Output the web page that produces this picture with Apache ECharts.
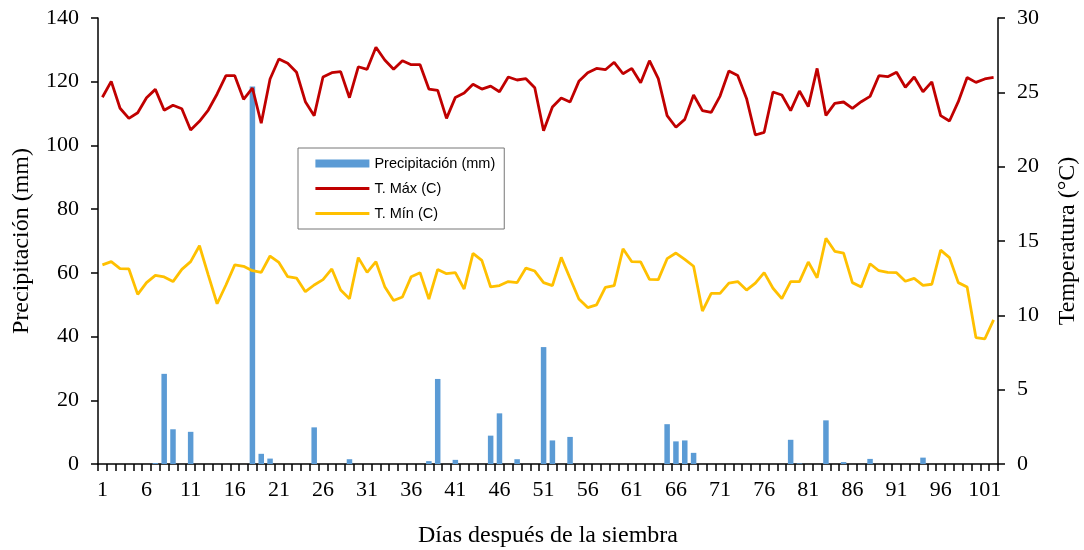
<!DOCTYPE html>
<html><head><meta charset="utf-8">
<script src="https://cdn.jsdelivr.net/npm/echarts@6/dist/echarts.min.js"></script>
<style>html,body{margin:0;padding:0;background:#fff}#c{width:1084px;height:550px}</style>
</head><body><div id="c"></div>
<script>
const days = Array.from({length:102},(_,i)=>String(i+1));
const precip = [
0,0,0,0,0,0,0.3,28.3,10.9,0,
10.1,0,0,0,0,0,0,118.5,3.2,1.7,
0,0,0,0,11.5,0,0,0,1.5,0,
0,0,0,0,0,0,0,0.9,26.7,0,
1.3,0,0,0,8.9,15.9,0,1.5,0,0,
36.7,7.4,0,8.5,0,0,0,0,0,0,
0,0,0,0,12.5,7.1,7.4,3.5,0,0,
0,0,0,0,0,0,0,0,7.6,0.2,
0,0,13.7,0,0.6,0,0,1.6,0,0,
0,0,0,2.0,0,0,0,0,0,0,
0,0];
const tMax = [
24.67,25.74,23.93,23.25,23.63,24.64,25.2,23.79,24.13,23.9,
22.47,23.05,23.81,24.89,26.12,26.12,24.53,25.29,22.92,25.9,
27.24,26.95,26.35,24.37,23.43,26.03,26.32,26.39,24.64,26.72,
26.55,28.03,27.17,26.55,27.13,26.86,26.86,25.22,25.13,23.25,
24.66,24.95,25.54,25.22,25.42,25.04,26.03,25.83,25.92,25.31,
22.42,24.01,24.62,24.35,25.74,26.32,26.61,26.52,27.02,26.25,
26.61,25.65,27.13,25.92,23.43,22.65,23.18,24.82,23.77,23.65,
24.75,26.43,26.14,24.59,22.13,22.31,25.02,24.82,23.77,25.09,
24.04,26.61,23.45,24.26,24.35,23.92,24.37,24.73,26.12,26.05,
26.35,25.34,26.03,25.04,25.7,23.43,23.07,24.37,26.0,25.67,
25.9,26.0];
const tMin = [
13.39,13.61,13.14,13.12,11.41,12.2,12.69,12.58,12.27,13.09,
13.61,14.68,12.71,10.78,12.04,13.39,13.3,13.0,12.89,13.99,
13.56,12.6,12.51,11.59,12.04,12.4,13.12,11.7,11.12,13.88,
12.89,13.61,11.93,11.0,11.23,12.6,12.87,11.1,13.09,12.8,
12.87,11.77,14.17,13.7,11.91,12.0,12.27,12.2,13.18,12.98,
12.2,12.0,13.9,12.49,11.1,10.52,10.7,11.88,12.0,14.48,
13.61,13.59,12.42,12.4,13.81,14.19,13.77,13.3,10.29,11.48,
11.48,12.17,12.27,11.7,12.17,12.87,11.82,11.12,12.27,12.27,
13.59,12.53,15.18,14.31,14.19,12.2,11.91,13.47,13.0,12.89,
12.87,12.29,12.49,12.02,12.09,14.39,13.88,12.2,11.91,8.5,
8.41,9.69];

const serif = "'Liberation Serif','Times New Roman',serif";
const axisLine = {show:true, lineStyle:{color:'#000', width:1.5}};
const chart = echarts.init(document.getElementById('c'));
chart.setOption({
  animation:false,
  backgroundColor:'#fff',
  grid:{left:98, right:86, top:18, bottom:86, outerBoundsMode:'none', containLabel:false},
  legend:{
    orient:'vertical', left:298, top:148,
    padding:[8,9,8,16], itemGap:10,
    borderColor:'#777', borderWidth:1,
    itemWidth:54, itemHeight:8,
    textStyle:{fontFamily:"'Liberation Sans',Arial,sans-serif", fontSize:14.5, color:'#000'},
    data:[{name:'Precipitación (mm)', icon:'rect'},
          {name:'T. Máx (C)', itemStyle:{opacity:0}, lineStyle:{width:2.8}},
          {name:'T. Mín (C)', itemStyle:{opacity:0}, lineStyle:{width:2.8}}]
  },
  xAxis:{
    type:'category', data:days, boundaryGap:true,
    name:'Días después de la siembra', nameLocation:'middle', nameGap:60,
    nameTextStyle:{fontFamily:serif, fontSize:24, color:'#000'},
    axisLine:axisLine,
    axisTick:{show:true, interval:0, length:7, lineStyle:{color:'#000', width:1.5}},
    axisLabel:{interval:4, fontFamily:serif, fontSize:22, color:'#000', margin:15}
  },
  yAxis:[{
    type:'value', min:0, max:140, interval:20,
    name:'Precipitación (mm)', nameLocation:'middle', nameGap:64, nameRotate:90,
    nameTextStyle:{fontFamily:serif, fontSize:24, color:'#000'},
    axisLine:axisLine,
    axisTick:{show:true, length:7, lineStyle:{color:'#000', width:1.5}},
    splitLine:{show:false},
    axisLabel:{fontFamily:serif, fontSize:22, color:'#000', margin:19}
  },{
    type:'value', min:0, max:30, interval:5, position:'right',
    name:'Temperatura (°C)', nameLocation:'middle', nameGap:58, nameRotate:90,
    nameTextStyle:{fontFamily:serif, fontSize:24, color:'#000'},
    axisLine:axisLine,
    axisTick:{show:true, length:7, lineStyle:{color:'#000', width:1.5}},
    splitLine:{show:false},
    axisLabel:{fontFamily:serif, fontSize:22, color:'#000', margin:19}
  }],
  series:[{
    name:'Precipitación (mm)', type:'bar', data:precip, barWidth:5.5,
    itemStyle:{color:'#5B9BD5'}, yAxisIndex:0, z:1
  },{
    name:'T. Máx (C)', type:'line', data:tMax, yAxisIndex:1,
    symbol:'none', showSymbol:false, lineStyle:{color:'#C00000', width:2.8},
    itemStyle:{color:'#C00000'}, z:3
  },{
    name:'T. Mín (C)', type:'line', data:tMin, yAxisIndex:1,
    symbol:'none', showSymbol:false, lineStyle:{color:'#FFC000', width:2.8},
    itemStyle:{color:'#FFC000'}, z:3
  }]
});
</script></body></html>
